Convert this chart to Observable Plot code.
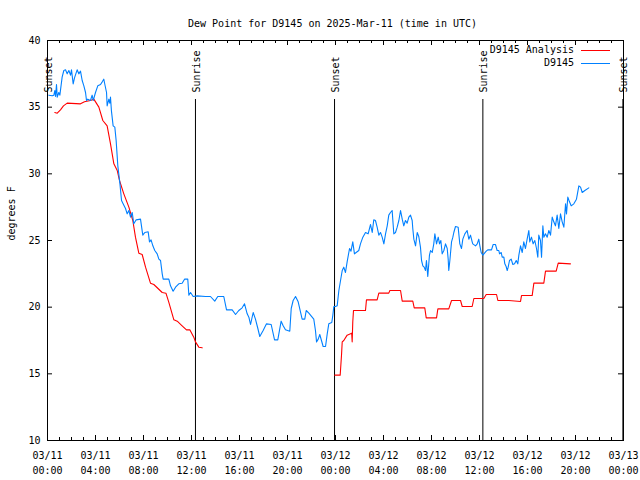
<!DOCTYPE html>
<html><head><meta charset="utf-8">
<script src="https://cdn.jsdelivr.net/npm/d3@7"></script>
<script src="https://cdn.jsdelivr.net/npm/@observablehq/plot@0.6"></script>
<style>body{margin:0;background:#fff}</style>
</head><body><div id="chart"></div>
<script>
const title = "Dew Point for D9145 on 2025-Mar-11 (time in UTC)";
const yLabel = "degrees F";
const startUTC = Date.UTC(2025, 2, 11);
const endUTC = Date.UTC(2025, 2, 13);
const seriesNames = ["D9145 Analysis", "D9145"];
const seriesColors = ["#ff0000", "#0080ff"];
const eventNames = ["Sunset", "Sunrise", "Sunset", "Sunrise", "Sunset"];
const eventHours = [0.0, 12.33, 23.92, 36.28, 47.95];
const yTicks = [10, 15, 20, 25, 30, 35, 40];

// [hours since 03/11 00:00 UTC, dew point °F]
const analysisNight1 = [
  [0.61,34.6],[0.81,34.55],[1.08,34.8],[1.33,35.1],[1.64,35.3],[2.75,35.25],[3.08,35.4],[3.58,35.5],
  [3.86,35.6],[4.28,35.0],[4.61,34.0],[4.97,33.6],[5.25,32.25],[5.53,30.75],[5.81,30.25],[6.0,29.5],
  [6.36,28.5],[6.78,27.5],[7.11,26.5],[7.33,25.25],[7.61,24.05],[7.89,23.95],[8.17,23.0],[8.58,21.8],
  [8.86,21.7],[9.56,21.1],[9.87,21.05],[10.1,20.4],[10.53,19.05],[10.81,18.95],[11.22,18.6],[11.58,18.3],
  [11.86,18.3],[12.19,17.75],[12.33,17.4],[12.61,17.0],[12.89,16.95]
];
const analysisNight2 = [
  [23.94,14.9],[24.39,14.9],[24.5,16.4],[24.56,17.4],[24.69,17.5],[24.97,17.9],[25.25,18.0],[25.35,18.05],
  [25.39,17.4],[25.44,18.9],[25.5,19.75],[26.5,19.75],[26.58,20.55],[27.47,20.55],[27.61,21.05],[28.44,21.05],
  [28.53,21.25],[29.42,21.25],[29.56,20.45],[30.44,20.45],[30.56,19.95],[31.44,19.95],[31.56,19.2],[32.42,19.2],
  [32.53,19.875],[33.44,19.875],[33.67,20.5],[34.42,20.5],[34.56,20.05],[35.39,20.05],[35.53,20.65],[36.36,20.65],
  [36.56,20.95],[37.42,20.95],[37.53,20.5],[38.44,20.5],[39.42,20.43],[39.5,20.87],[40.39,20.87],[40.53,21.8],
  [41.36,21.8],[41.5,22.7],[42.39,22.7],[42.56,23.3],[43.58,23.25]
];
const stationObs = [
  [0.11,35.9],[0.39,35.85],[0.53,35.9],[0.61,36.25],[0.67,35.8],[0.75,36.7],[0.81,35.75],[0.94,36.1],
  [1.03,35.9],[1.22,37.25],[1.36,37.75],[1.5,37.8],[1.64,37.5],[1.78,37.75],[1.92,37.4],[2.0,37.8],
  [2.14,36.75],[2.25,37.2],[2.47,37.8],[2.61,37.5],[2.75,37.7],[2.89,37.0],[3.03,36.6],[3.17,36.1],
  [3.25,35.5],[3.36,35.6],[3.58,35.5],[3.72,35.9],[3.81,35.5],[4.0,36.1],[4.19,36.6],[4.42,36.7],
  [4.56,36.9],[4.69,37.1],[4.78,36.7],[4.92,36.1],[4.97,35.1],[5.11,35.6],[5.19,35.3],[5.25,35.75],
  [5.33,34.7],[5.47,33.6],[5.61,33.5],[5.72,32.5],[5.86,30.6],[5.94,30.0],[6.03,29.3],[6.17,28.0],
  [6.28,27.8],[6.5,27.4],[6.64,27.0],[6.78,27.25],[6.92,26.75],[7.06,27.1],[7.19,26.25],[7.39,26.55],
  [7.75,26.6],[7.94,25.4],[8.11,25.6],[8.39,25.65],[8.5,24.9],[8.63,25.05],[8.78,24.6],[8.94,24.25],
  [9.14,24.0],[9.28,23.6],[9.42,23.5],[9.56,22.5],[9.64,22.1],[10.11,22.1],[10.25,21.6],[10.47,21.2],
  [10.67,21.5],[10.94,21.75],[11.22,21.8],[11.42,22.1],[11.69,22.1],[11.78,20.9],[11.92,21.1],[12.14,20.8],
  [12.47,20.85],[13.17,20.8],[13.58,20.8],[13.94,20.45],[14.19,20.8],[14.69,20.8],[14.92,19.8],[15.39,19.8],
  [15.67,19.45],[15.94,19.75],[16.22,19.95],[16.42,20.25],[16.64,19.5],[16.78,19.25],[16.92,18.7],[17.14,19.6],
  [17.33,19.1],[17.53,18.4],[17.69,17.8],[17.97,18.25],[18.25,18.75],[18.64,18.7],[18.92,17.55],[19.19,17.55],
  [19.47,18.95],[19.64,18.6],[19.83,18.3],[20.19,18.2],[20.31,19.9],[20.47,20.5],[20.67,20.8],[20.89,20.4],
  [21.22,19.1],[21.44,19.1],[21.56,19.75],[21.78,19.55],[22.19,19.1],[22.33,18.25],[22.42,17.4],[22.56,17.6],
  [22.69,17.95],[22.83,17.5],[22.97,17.05],[23.17,17.05],[23.31,18.0],[23.44,18.75],[23.69,18.85],[23.78,19.4],
  [23.86,20.05],[24.0,20.05],[24.14,20.1],[24.28,21.25],[24.42,22.0],[24.56,22.75],[24.69,23.0],[24.83,22.6],
  [24.97,23.4],[25.17,24.4],[25.29,24.2],[25.44,24.9],[25.58,24.0],[25.72,24.1],[25.94,24.25],[26.08,24.75],
  [26.28,25.25],[26.5,25.6],[26.72,25.5],[26.92,26.2],[27.06,25.6],[27.19,26.55],[27.33,26.5],[27.47,26.0],
  [27.61,25.4],[27.75,25.6],[27.89,25.25],[28.03,24.75],[28.17,25.5],[28.31,26.1],[28.44,26.9],[28.58,27.1],
  [28.72,27.25],[28.86,25.5],[29.0,25.6],[29.14,26.0],[29.28,26.5],[29.42,27.25],[29.56,26.6],[29.69,26.1],
  [29.83,26.5],[29.97,26.3],[30.11,26.75],[30.25,26.9],[30.39,26.5],[30.44,25.9],[30.53,25.1],[30.67,24.6],
  [30.81,25.6],[30.94,25.3],[31.08,24.5],[31.17,23.5],[31.28,23.1],[31.39,23.0],[31.5,22.75],[31.58,23.5],
  [31.69,22.3],[31.83,23.9],[31.92,24.25],[32.06,24.1],[32.19,24.75],[32.28,25.5],[32.42,24.75],[32.56,25.25],
  [32.67,24.75],[32.78,25.0],[32.89,24.0],[33.03,24.25],[33.17,24.75],[33.31,24.4],[33.39,23.6],[33.44,22.75],
  [33.53,23.5],[33.67,24.9],[33.78,25.25],[33.86,25.6],[34.0,26.05],[34.22,26.0],[34.36,24.75],[34.5,24.4],
  [34.61,25.1],[34.78,25.5],[34.97,25.75],[35.11,25.1],[35.25,25.4],[35.39,24.9],[35.44,24.75],[35.67,24.6],
  [35.81,24.75],[35.94,25.1],[36.03,24.6],[36.14,24.1],[36.28,23.9],[36.42,24.05],[36.56,24.2],[36.69,24.3],
  [37.0,24.3],[37.14,24.7],[37.33,24.7],[37.47,24.25],[37.61,24.25],[37.67,24.0],[37.81,24.1],[37.89,23.75],
  [38.03,23.75],[38.11,23.25],[38.22,23.05],[38.31,22.75],[38.39,23.0],[38.5,23.5],[38.64,23.6],[38.78,23.2],
  [38.92,23.25],[39.06,23.5],[39.19,23.25],[39.28,23.9],[39.42,24.6],[39.56,24.1],[39.69,24.9],[39.83,24.4],
  [39.97,25.1],[40.11,25.75],[40.19,24.9],[40.33,25.25],[40.47,24.75],[40.61,25.0],[40.75,24.4],[40.86,23.75],
  [40.94,25.4],[41.08,25.0],[41.17,23.75],[41.28,26.1],[41.36,25.25],[41.5,25.5],[41.64,25.25],[41.78,25.75],
  [41.92,25.4],[42.06,26.75],[42.19,26.4],[42.33,26.1],[42.47,26.9],[42.61,25.9],[42.75,27.0],[42.89,26.4],
  [43.03,26.0],[43.17,27.75],[43.25,27.0],[43.36,28.25],[43.5,27.9],[43.64,27.6],[43.86,27.75],[44.08,28.1],
  [44.28,29.1],[44.42,29.0],[44.56,28.6],[44.78,28.75],[45.11,28.95]
];

const toDate = h => new Date(startUTC + h * 3600e3);
const analysis = [
  ...analysisNight1.map(([h, v]) => ({t: toDate(h), v, seg: 1})),
  ...analysisNight2.map(([h, v]) => ({t: toDate(h), v, seg: 2}))
];
const station = stationObs.map(([h, v]) => ({t: toDate(h), v}));
const events = eventNames.map((name, i) => ({name, t: toDate(eventHours[i])}));
const minorTicks = d3.utcHour.range(new Date(startUTC), new Date(endUTC + 1));
const majorTicks = d3.utcHour.every(4).range(new Date(startUTC), new Date(endUTC + 1));

const W = 640, H = 480, mL = 47, mR = 17, mT = 40, mB = 40;
const fw = W - mL - mR, fh = H - mT - mB;

const plot = Plot.plot({
  width: W, height: H,
  marginLeft: mL, marginRight: mR, marginTop: mT, marginBottom: mB,
  style: {fontFamily: "'DejaVu Sans Mono', monospace", fontSize: "10px", color: "black", background: "white"},
  x: {type: "utc", domain: [new Date(startUTC), new Date(endUTC)]},
  y: {domain: [10, 40]},
  marks: [
    Plot.ruleX(events, {x: "t", insetTop: 59, stroke: "black"}),
    Plot.text(events, {x: "t", text: "name", frameAnchor: "top", dy: 52, dx: -3, rotate: -90, textAnchor: "start", fill: "black"}),
    Plot.line(analysis, {x: "t", y: "v", z: "seg", stroke: seriesColors[0], strokeWidth: 1.1}),
    Plot.line(station, {x: "t", y: "v", stroke: seriesColors[1], strokeWidth: 1.1}),
    Plot.ruleX(minorTicks, {x: d => d, insetTop: fh - 3, stroke: "black"}),
    Plot.ruleX(minorTicks, {x: d => d, insetBottom: fh - 3, stroke: "black"}),
    Plot.ruleX(majorTicks, {x: d => d, insetTop: fh - 5, stroke: "black"}),
    Plot.ruleX(majorTicks, {x: d => d, insetBottom: fh - 5, stroke: "black"}),
    Plot.ruleY(yTicks, {y: d => d, insetRight: fw - 5, stroke: "black"}),
    Plot.ruleY(yTicks, {y: d => d, insetLeft: fw - 5, stroke: "black"}),
    Plot.frame({stroke: "black"}),
    Plot.axisX({ticks: majorTicks, tickSize: 0, tickPadding: 7, tickFormat: d3.utcFormat("%m/%d\n%H:%M"), lineHeight: 1.55, label: null, fill: "black"}),
    Plot.axisY({ticks: yTicks, tickSize: 0, tickPadding: 7, label: null, fill: "black"}),
    Plot.text([yLabel], {frameAnchor: "left", dx: -36, rotate: -90, fill: "black"}),
    Plot.text([title], {frameAnchor: "top", dy: -21, dx: -3, fill: "black"})
  ]
});

const svg = d3.select(plot);
const xr = plot.scale("x").range;
seriesNames.forEach((name, i) => {
  const cy = mT + 10 + i * 13;
  svg.append("text").attr("x", xr[1] - 49).attr("y", cy).attr("dy", "0.32em")
    .attr("text-anchor", "end").attr("fill", "black").text(name);
  svg.append("line").attr("x1", xr[1] - 42).attr("x2", xr[1] - 13)
    .attr("y1", cy + 0.5).attr("y2", cy + 0.5).attr("stroke", seriesColors[i]);
});
document.getElementById("chart").appendChild(plot);
</script>
</body></html>
